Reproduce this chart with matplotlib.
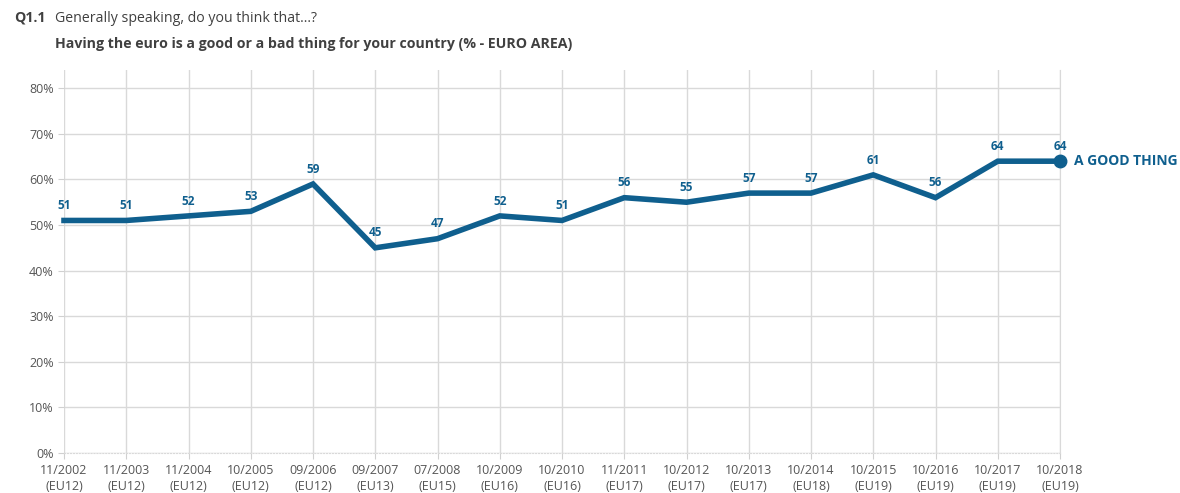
import matplotlib.pyplot as plt

plt.rcParams['font.family'] = ['Open Sans', 'DejaVu Sans']

dates = ['11/2002', '11/2003', '11/2004', '10/2005', '09/2006', '09/2007', '07/2008',
         '10/2009', '10/2010', '11/2011', '10/2012', '10/2013', '10/2014', '10/2015',
         '10/2016', '10/2017', '10/2018']
members = ['EU12', 'EU12', 'EU12', 'EU12', 'EU12', 'EU13', 'EU15', 'EU16', 'EU16',
           'EU17', 'EU17', 'EU17', 'EU18', 'EU19', 'EU19', 'EU19', 'EU19']
good_thing = [51, 51, 52, 53, 59, 45, 47, 52, 51, 56, 55, 57, 57, 61, 56, 64, 64]

blue = '#0f5f8e'
x = list(range(len(dates)))

fig = plt.figure(figsize=(11.8, 4.93), dpi=100)
ax = fig.add_axes([64 / 1180, 40 / 493, 996 / 1180, 383 / 493])

ax.plot(x, good_thing, color=blue, lw=4, solid_joinstyle='miter', zorder=3, clip_on=False)
ax.plot(x[-1], good_thing[-1], 'o', color=blue, ms=9, zorder=4, clip_on=False)

for xi, v in zip(x, good_thing):
    ax.annotate(str(v), (xi, v), textcoords='offset points', xytext=(0, 6),
                ha='center', va='bottom', fontsize=8.5, fontweight='bold', color=blue)

ax.annotate('A GOOD THING', (x[-1], good_thing[-1]), textcoords='offset points',
            xytext=(10, 0), ha='left', va='center', fontsize=10,
            fontweight='bold', color=blue, annotation_clip=False)

ax.set_xlim(0, len(dates) - 1)
ax.set_ylim(0, 84)
ax.set_yticks(range(0, 81, 10))
ax.set_yticklabels([f'{t}%' for t in range(0, 81, 10)])
ax.set_xticks(x)
ax.set_xticklabels([f'{d}\n({m})' for d, m in zip(dates, members)], linespacing=1.25)
ax.tick_params(axis='both', labelsize=9, colors='#d0d0d0', labelcolor='#555555', length=4)
ax.tick_params(axis='x', pad=4)

ax.grid(True, color='#d9d9d9', lw=1)
ax.set_axisbelow(True)
for s in ['top', 'left']:
    ax.spines[s].set_visible(False)
ax.spines['right'].set_color('#d9d9d9')
ax.spines['bottom'].set_color('#d9d9d9')
ax.spines['bottom'].set_linestyle(':')

fig.text(14 / 1180, 1 - 18 / 493, 'Q1.1', fontsize=10.2, fontweight='bold',
         color='#404040', va='center')
fig.text(55 / 1180, 1 - 18 / 493, 'Generally speaking, do you think that...?',
         fontsize=10.2, color='#404040', va='center')
fig.text(55 / 1180, 1 - 44 / 493,
         'Having the euro is a good or a bad thing for your country (% - EURO AREA)',
         fontsize=10.2, fontweight='bold', color='#404040', va='center')

fig.savefig('out.png', dpi=100)
